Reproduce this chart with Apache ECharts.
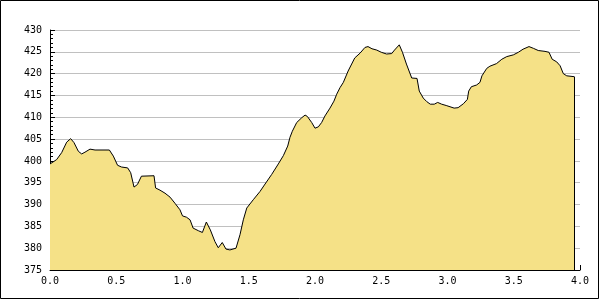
<!DOCTYPE html>
<html>
<head>
<meta charset="utf-8">
<script src="https://cdn.jsdelivr.net/npm/echarts@6/dist/echarts.min.js"></script>
<style>html,body{margin:0;padding:0;background:#fff}#c{width:600px;height:300px}</style>
</head>
<body>
<div id="c"></div>
<script>
// distance values (x) and elevation values (y)
const distX = [0.0,0.05,0.088,0.126,0.156,0.181,0.214,0.239,0.264,0.302,0.34,0.448,0.478,0.51,0.54,0.586,0.609,0.634,0.66,0.69,0.785,0.797,0.83,0.868,0.906,0.943,0.981,1.0,1.03,1.057,1.08,1.12,1.15,1.18,1.21,1.245,1.27,1.30,1.328,1.358,1.404,1.434,1.459,1.485,1.534,1.585,1.623,1.673,1.723,1.761,1.794,1.811,1.829,1.862,1.9,1.925,1.942,1.975,2.0,2.025,2.05,2.075,2.113,2.143,2.164,2.189,2.214,2.25,2.30,2.34,2.377,2.40,2.43,2.466,2.50,2.54,2.579,2.60,2.636,2.66,2.69,2.73,2.77,2.787,2.817,2.843,2.87,2.90,2.926,2.956,2.99,3.05,3.08,3.12,3.15,3.16,3.18,3.22,3.245,3.26,3.296,3.32,3.37,3.41,3.447,3.497,3.535,3.57,3.615,3.648,3.685,3.736,3.766,3.79,3.824,3.85,3.874,3.90,3.957];
const elev = [399.3,400.3,401.9,404.3,405.1,404.2,402.2,401.6,402.0,402.7,402.5,402.5,401.1,399.0,398.6,398.4,397.3,394.0,394.6,396.5,396.6,393.8,393.3,392.6,391.7,390.3,388.8,387.4,387.1,386.5,384.6,384.0,383.6,386.0,384.2,381.5,380.1,381.3,379.8,379.6,380.0,383.1,386.5,389.2,391.1,393.0,394.7,396.9,399.3,401.2,403.4,405.4,406.8,408.8,409.9,410.5,410.2,408.8,407.5,407.8,408.8,410.3,412.1,413.7,415.3,416.8,418.0,420.6,423.6,424.7,426.0,426.2,425.7,425.4,424.9,424.5,424.6,425.4,426.6,424.9,422.2,419.0,418.9,416.0,414.4,413.6,413.0,413.0,413.4,413.0,412.7,412.1,412.2,413.1,414.1,416.0,417.0,417.4,418.0,419.5,421.2,421.7,422.3,423.3,423.9,424.3,424.9,425.6,426.2,425.8,425.3,425.1,424.9,423.3,422.7,421.8,420.0,419.5,419.3];
const yMin = 375, yMax = 430, yStep = 5;
const xMin = 0, xMax = 4, xStep = 0.5;

const data = distX.map((x, i) => [x, elev[i]]);
const lastX = distX[distX.length - 1];
const lastY = elev[elev.length - 1];
const font = '"DejaVu Sans Mono", monospace';

const chart = echarts.init(document.getElementById('c'), null, {renderer: 'canvas'});
chart.setOption({
  animation: false,
  backgroundColor: '#ffffff',
  grid: {left: 50, right: 20, top: 30, bottom: 30, containLabel: false},
  xAxis: {
    type: 'value', min: xMin, max: xMax, interval: xStep,
    axisLine: {show: true, lineStyle: {color: '#000', width: 1}},
    axisTick: {show: true, inside: true, length: 5, lineStyle: {color: '#000'}},
    axisLabel: {color: '#000', fontFamily: font, fontSize: 10, margin: 6,
      formatter: v => v.toFixed(1)},
    splitLine: {show: false}
  },
  yAxis: {
    type: 'value', min: yMin, max: yMax, interval: yStep,
    axisLine: {show: true, lineStyle: {color: '#000', width: 1}},
    axisTick: {show: true, inside: true, length: 5, lineStyle: {color: '#000'}},
    minorTick: {show: true, splitNumber: 5, length: 3, lineStyle: {color: '#000'}},
    axisLabel: {color: '#000', fontFamily: font, fontSize: 10, margin: 8},
    splitLine: {show: true, lineStyle: {color: '#c0c0c0', width: 1}}
  },
  series: [{
    type: 'line',
    data: data,
    symbol: 'none',
    smooth: false,
    lineStyle: {color: '#000', width: 1},
    areaStyle: {color: '#f5e187', opacity: 1, origin: 'start'},
    z: 3,
    markLine: {
      silent: true, symbol: 'none', label: {show: false},
      lineStyle: {color: '#000', width: 1, type: 'solid'},
      data: [[{coord: [lastX, yMin]}, {coord: [lastX, lastY]}]]
    }
  }],
  graphic: [{
    type: 'rect', silent: true, z: 100,
    shape: {x: 0.5, y: 0.5, width: 598, height: 298},
    style: {fill: null, stroke: '#000', lineWidth: 1}
  }]
});
</script>
</body>
</html>
